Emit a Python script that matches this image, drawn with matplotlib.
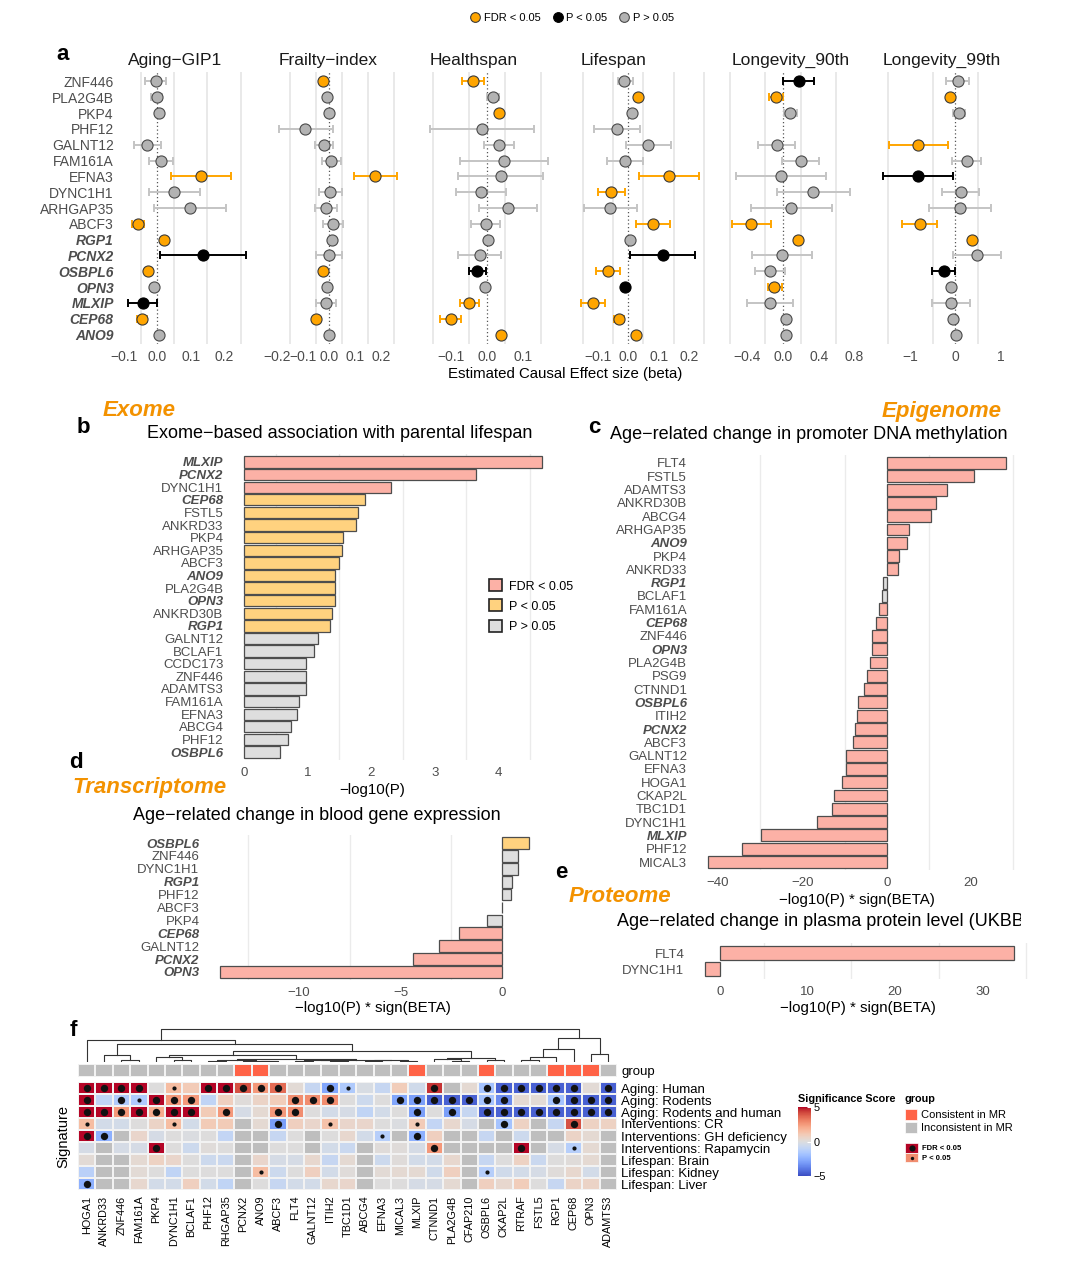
import numpy as np
import matplotlib as mpl
import matplotlib.pyplot as plt
from matplotlib.lines import Line2D
from matplotlib.patches import Patch, Rectangle
from matplotlib.colors import ListedColormap, Normalize
from matplotlib.transforms import Bbox

plt.rcParams['font.family'] = ['Liberation Sans', 'DejaVu Sans']

nan = np.nan
W, H = 1080, 1284

# ---------------- data: panel a (MR estimates) ----------------
a_genes = ['ZNF446', 'PLA2G4B', 'PKP4', 'PHF12', 'GALNT12', 'FAM161A', 'EFNA3',
           'DYNC1H1', 'ARHGAP35', 'ABCF3', 'RGP1', 'PCNX2', 'OSBPL6', 'OPN3',
           'MLXIP', 'CEP68', 'ANO9']
mr_genes = ['RGP1', 'PCNX2', 'OSBPL6', 'OPN3', 'MLXIP', 'CEP68', 'ANO9']
traits = ['Aging−GIP1', 'Frailty−index', 'Healthspan', 'Lifespan',
          'Longevity_90th', 'Longevity_99th']

aging_beta = [-0.005, -0.002, 0.006, nan, -0.030, 0.011, 0.130, 0.051, 0.097, -0.059, 0.021, 0.138, -0.027, -0.011, -0.043, -0.047, 0.004]
aging_lo = [-0.038, -0.018, -0.002, nan, -0.071, -0.026, 0.040, -0.026, -0.009, -0.077, 0.012, 0.008, -0.037, -0.020, -0.088, -0.061, -0.004]
aging_hi = [0.026, 0.013, 0.013, nan, 0.010, 0.048, 0.220, 0.127, 0.206, -0.040, 0.030, 0.266, -0.017, -0.002, 0.000, -0.031, 0.012]
aging_sig = 'NNNNNNFNNFFPFNPFN'

frail_beta = [-0.025, -0.009, 0.001, -0.092, -0.021, 0.008, 0.177, 0.004, -0.013, 0.016, 0.011, 0.000, -0.025, -0.007, -0.013, -0.052, -0.001]
frail_lo = [-0.035, -0.017, -0.007, -0.193, -0.056, -0.029, 0.095, -0.039, -0.056, -0.023, 0.003, -0.049, -0.033, -0.015, -0.049, -0.062, -0.009]
frail_hi = [-0.015, -0.001, 0.009, 0.013, 0.013, 0.047, 0.261, 0.048, 0.031, 0.053, 0.019, 0.048, -0.017, 0.001, 0.027, -0.042, 0.007]
frail_sig = 'FNNNNNFNNNNNFNNFN'

health_beta = [-0.038, 0.017, 0.035, -0.014, 0.034, 0.049, 0.041, -0.017, 0.059, -0.003, 0.004, -0.019, -0.026, -0.005, -0.048, -0.100, 0.039]
health_lo = [-0.069, 0.002, 0.027, -0.158, -0.007, -0.075, -0.081, -0.085, -0.022, -0.045, -0.004, -0.079, -0.050, -0.013, -0.075, -0.129, 0.031]
health_hi = [-0.007, 0.033, 0.043, 0.133, 0.075, 0.171, 0.157, 0.053, 0.140, 0.038, 0.012, 0.041, -0.003, 0.003, -0.020, -0.071, 0.047]
health_sig = 'FNFNNNNNNNNNPNFFF'

life_beta = [-0.014, 0.033, 0.013, -0.036, 0.064, -0.010, 0.134, -0.056, -0.059, 0.081, 0.007, 0.114, -0.066, -0.011, -0.116, -0.031, 0.024]
life_lo = [-0.034, 0.025, 0.005, -0.114, -0.009, -0.069, 0.036, -0.099, -0.145, 0.026, -0.001, 0.006, -0.106, -0.019, -0.156, -0.047, 0.016]
life_hi = [0.014, 0.041, 0.021, 0.040, 0.139, 0.050, 0.233, -0.011, 0.030, 0.136, 0.015, 0.220, -0.026, -0.003, -0.076, -0.015, 0.032]
life_sig = 'NFNNNNFFNFNPFPFFF'

l90_beta = [0.179, -0.085, 0.082, nan, -0.070, 0.198, -0.023, 0.338, 0.093, -0.357, 0.171, -0.012, -0.148, -0.097, -0.148, 0.035, 0.035]
l90_lo = [0.000, -0.155, 0.008, nan, -0.280, -0.008, -0.528, -0.070, -0.361, -0.575, 0.140, -0.346, -0.318, -0.175, -0.408, 0.005, 0.005]
l90_hi = [0.350, 0.000, 0.155, nan, 0.136, 0.408, 0.482, 0.753, 0.548, -0.140, 0.200, 0.326, 0.023, -0.008, 0.117, 0.065, 0.065]
l90_sig = 'PFNNNNNNNFFNNFNNN'

l99_beta = [0.054, -0.123, 0.069, nan, -0.831, 0.254, -0.831, 0.115, 0.100, -0.800, 0.377, 0.477, -0.254, -0.108, -0.100, -0.054, 0.008]
l99_lo = [-0.200, -0.160, -0.060, nan, -1.485, -0.077, -1.615, -0.292, -0.585, -1.190, 0.300, -0.062, -0.523, -0.150, -0.523, -0.090, -0.030]
l99_hi = [0.308, -0.086, 0.208, nan, -0.177, 0.577, -0.046, 0.515, 0.785, -0.408, 0.455, 1.015, 0.000, -0.066, 0.323, -0.018, 0.046]
l99_sig = 'NFNNFNPNNFFNPNNNN'

a_ticks = [[-0.1, 0, 0.1, 0.2], [-0.2, -0.1, 0, 0.1, 0.2], [-0.1, 0, 0.1],
           [-0.1, 0, 0.1, 0.2], [-0.4, 0, 0.4, 0.8], [-1, 0, 1]]
a_dec = [1, 1, 1, 1, 1, 0]

# ---------------- data: panel b (exome) ----------------
b_genes = ['MLXIP', 'PCNX2', 'DYNC1H1', 'CEP68', 'FSTL5', 'ANKRD33', 'PKP4', 'ARHGAP35',
           'ABCF3', 'ANO9', 'PLA2G4B', 'OPN3', 'ANKRD30B', 'RGP1', 'GALNT12', 'BCLAF1',
           'CCDC173', 'ZNF446', 'ADAMTS3', 'FAM161A', 'EFNA3', 'ABCG4', 'PHF12', 'OSBPL6']
b_vals = [4.69, 3.65, 2.31, 1.91, 1.80, 1.77, 1.56, 1.54, 1.50, 1.44, 1.44, 1.43,
          1.38, 1.36, 1.16, 1.10, 0.98, 0.97, 0.97, 0.86, 0.83, 0.74, 0.69, 0.57]
b_cats = 'FFFPPPPPPPPPPPNNNNNNNNNN'

# ---------------- data: panel c (methylation) ----------------
c_genes = ['FLT4', 'FSTL5', 'ADAMTS3', 'ANKRD30B', 'ABCG4', 'ARHGAP35', 'ANO9', 'PKP4',
           'ANKRD33', 'RGP1', 'BCLAF1', 'FAM161A', 'CEP68', 'ZNF446', 'OPN3', 'PLA2G4B',
           'PSG9', 'CTNND1', 'OSBPL6', 'ITIH2', 'PCNX2', 'ABCF3', 'GALNT12', 'EFNA3',
           'HOGA1', 'CKAP2L', 'TBC1D1', 'DYNC1H1', 'MLXIP', 'PHF12', 'MICAL3']
c_vals = [28.2, 20.8, 14.4, 11.8, 10.5, 5.4, 4.7, 2.8, 2.6, -0.8, -1.1, -1.8, -2.6,
          -3.5, -3.5, -3.9, -4.7, -5.3, -6.9, -7.0, -7.4, -7.9, -9.6, -9.7, -10.7,
          -12.4, -12.9, -16.5, -29.9, -34.2, -42.5]
c_cats = 'FFFFFFFFFNNFFFFFFFFFFFFFFFFFFFF'

# ---------------- data: panel d (transcriptome) ----------------
d_genes = ['OSBPL6', 'ZNF446', 'DYNC1H1', 'RGP1', 'PHF12', 'ABCF3', 'PKP4', 'CEP68',
           'GALNT12', 'PCNX2', 'OPN3']
d_vals = [1.30, 0.79, 0.79, 0.46, 0.43, -0.02, -0.77, -2.10, -3.12, -4.37, -13.86]
d_cats = 'PNNNNNNFFFF'

# ---------------- data: panel e (proteome) ----------------
e_genes = ['FLT4', 'DYNC1H1']
e_vals = [33.6, -1.66]
e_cats = 'FF'

# ---------------- data: panel f (heatmap) ----------------
f_cols = ['HOGA1', 'ANKRD33', 'ZNF446', 'FAM161A', 'PKP4', 'DYNC1H1', 'BCLAF1', 'PHF12',
          'RHGAP35', 'PCNX2', 'ANO9', 'ABCF3', 'FLT4', 'GALNT12', 'ITIH2', 'TBC1D1',
          'ABCG4', 'EFNA3', 'MICAL3', 'MLXIP', 'CTNND1', 'PLA2G4B', 'CFAP210', 'OSBPL6',
          'CKAP2L', 'RTRAF', 'FSTL5', 'RGP1', 'CEP68', 'OPN3', 'ADAMTS3']
f_rows = ['Aging: Human', 'Aging: Rodents', 'Aging: Rodents and human', 'Interventions: CR',
          'Interventions: GH deficiency', 'Interventions: Rapamycin', 'Lifespan: Brain',
          'Lifespan: Kidney', 'Lifespan: Liver']
f_group = [0, 0, 0, 0, 0, 0, 0, 0, 0, 1, 1, 0, 0, 0, 0, 0, 0, 0, 0, 1, 0, 0, 0, 1,
           0, 0, 0, 1, 1, 1, 0]
f_vals = np.array([
    [5, 5, 5, 5, 0, 1.5, 1, 5, 5, 4, 2.5, 3.5, 0.2, -0.8, -2.8, -1.5, -0.2, -0.8, 0.9, -0.5, 4.5, nan, 0.3, -1.8, -4.5, -4.5, -4.5, -4.5, -4.5, 0.2, -4.5],
    [5, -1, -1.5, -1.5, 5, 2.5, 2.5, -1, 0.8, 0.1, 0.6, 0.9, 2.8, 2.8, 2.8, 0, -0.6, 0, -2.8, -3, -4.5, -4.5, -4.5, -1.8, -3.5, 0.3, 0.2, -1.8, -4.5, -4.5, -4.5],
    [5, 5, 2.5, 5, 2, 5, 5, 1, 2.5, -0.3, 0.3, 2.5, 2.8, 0, -0.4, -0.3, -1, -0.4, 0, -3, 0, -3, -0.8, -4.5, -4.5, -4.5, -4.5, -4.5, -4.5, -4.5, -4.5],
    [1.5, -0.4, -0.4, 0, 0.6, 1.5, -0.4, 1, 1, nan, 0.3, -3, 0.8, 0.5, 1.3, 0.5, 0.5, 0, -0.1, 1, -0.9, 0.4, -0.3, nan, -1.8, 0.7, nan, -0.8, 4, 0.7, 0.7],
    [5, -2.5, nan, 0.5, -0.3, 0, -0.1, 0, -0.9, nan, nan, -0.8, 0, nan, 0, 0.4, -0.4, -1.3, nan, -2.5, 0.8, nan, nan, -0.8, nan, -0.6, nan, nan, 0.6, 0.3, nan],
    [-0.3, nan, -0.3, -0.3, 5, 0, -0.6, 0.1, 0, nan, nan, 0, 0, nan, -0.4, -0.7, nan, 0.1, 0.1, -0.3, 2.5, nan, nan, nan, nan, 5, nan, -0.3, -1.3, 0.3, nan],
    [0.2, nan, nan, 0.3, 0.7, 0.5, 0, -0.6, -0.7, nan, 0.5, -0.3, -0.3, 0.4, -0.8, 0.3, nan, -0.6, 0.1, -0.4, -0.4, 0.4, nan, -0.8, 0, 0.7, -0.7, 0, 0.1, 0.3, nan],
    [-1.2, nan, nan, 0.2, 0, -1, 0, 0, 0, nan, 1.5, -0.6, 0, 0.8, -0.4, 0.1, nan, 0.2, 0.3, 0.3, -0.5, 0.8, nan, -1.3, -0.5, -0.4, -0.3, 0.1, 0.4, -0.4, nan],
    [-2.5, nan, nan, 0.4, -0.4, -0.4, 0.8, -0.4, -1, nan, 0, -0.8, -0.4, -0.4, 0.4, 0.5, nan, 0, 0, -0.3, -0.3, 0.3, nan, 0.8, 0.4, 0.9, 0, -0.8, 0.6, 0.6, nan],
])
# 2 = FDR < 0.05, 1 = P < 0.05
f_sig = np.array([
    [2, 2, 2, 2, 0, 1, 0, 2, 2, 2, 2, 2, 0, 0, 2, 1, 0, 0, 0, 0, 2, 0, 0, 2, 2, 2, 2, 2, 2, 0, 2],
    [2, 0, 2, 1, 2, 2, 2, 0, 0, 0, 0, 0, 2, 2, 2, 0, 0, 0, 2, 2, 2, 2, 2, 2, 2, 0, 0, 2, 2, 2, 2],
    [2, 2, 2, 2, 2, 2, 2, 0, 2, 0, 0, 2, 2, 0, 0, 0, 0, 0, 0, 2, 0, 2, 0, 2, 2, 2, 2, 2, 2, 2, 2],
    [1, 0, 0, 0, 0, 1, 0, 0, 0, 0, 0, 2, 0, 0, 1, 0, 0, 0, 0, 1, 0, 0, 0, 0, 2, 0, 0, 0, 2, 0, 0],
    [2, 2, 0, 0, 0, 0, 0, 0, 0, 0, 0, 0, 0, 0, 0, 0, 0, 1, 0, 2, 0, 0, 0, 0, 0, 0, 0, 0, 0, 0, 0],
    [0, 0, 0, 0, 2, 0, 0, 0, 0, 0, 0, 0, 0, 0, 0, 0, 0, 0, 0, 0, 2, 0, 0, 0, 0, 2, 0, 0, 1, 0, 0],
    [0] * 31,
    [0, 0, 0, 0, 0, 0, 0, 0, 0, 0, 1, 0, 0, 0, 0, 0, 0, 0, 0, 0, 0, 0, 0, 1, 0, 0, 0, 0, 0, 0, 0],
    [2] + [0] * 30,
])
# column dendrogram: (height, left, right), leaves are column indices
f_tree = (1.0,
          (0.66, 0,
           (0.55,
            (0.21, 1, (0.05, 2, 3)),
            (0.34,
             (0.20, (0.14, 4, (0.05, 5, 6)),
              (0.08,
               (0.05, (0.03, 7, 8), (0.04, 9, (0.02, 10, 11))),
               (0.06, (0.05, (0.03, 12, 13), (0.04, 14, 15)),
                (0.05, (0.04, 16, 17), (0.03, 18, 19))))),
             (0.13, (0.09, 20, (0.04, 21, 22)), (0.05, 23, 24))))),
          (0.73, (0.38, (0.14, (0.06, 25, 26), 27), 28), (0.24, 29, 30)))

# ---------------- helpers ----------------
fig = plt.figure(figsize=(W / 100, H / 100), dpi=100)

ORANGE = '#FFA500'
TITLE_OR = '#F39200'
GREY_TXT = '#4D4D4D'


def px_ax(x0, y0, x1, y1):
    return fig.add_axes([x0 / W, 1 - y1 / H, (x1 - x0) / W, (y1 - y0) / H])


def ftext(x, y, s, **kw):
    kw.setdefault('va', 'center')
    return fig.text(x / W, 1 - y / H, s, **kw)


def pad_lim(lo, hi, frac=0.05):
    r = hi - lo
    return lo - frac * r, hi + frac * r


def minor_lines(ticks, lim):
    step = ticks[1] - ticks[0]
    m = np.arange(ticks[0] - step / 2, ticks[-1] + step, step)
    return [v for v in m if lim[0] < v < lim[1]]


def fmt(v, d):
    return f'{v:.{d}f}'.replace('-', '−')


def clean(ax):
    for s in ax.spines.values():
        s.set_visible(False)
    ax.tick_params(length=0)
    ax.set_facecolor('none')


def gene_labels(ax, genes, size):
    ax.set_yticks(range(len(genes)))
    ax.set_yticklabels(genes, fontsize=size, color=GREY_TXT)
    for lab in ax.get_yticklabels():
        if lab.get_text() in mr_genes:
            lab.set_fontweight('bold')
            lab.set_fontstyle('italic')


# ---------------- panel a ----------------
a_sets = [(aging_beta, aging_lo, aging_hi, aging_sig),
          (frail_beta, frail_lo, frail_hi, frail_sig),
          (health_beta, health_lo, health_hi, health_sig),
          (life_beta, life_lo, life_hi, life_sig),
          (l90_beta, l90_lo, l90_hi, l90_sig),
          (l99_beta, l99_lo, l99_hi, l99_sig)]
pt_face = {'F': ORANGE, 'P': '#000000', 'N': '#B3B3B3'}
pt_edge = {'F': '#3A3A3A', 'P': '#000000', 'N': '#4A4A4A'}
err_col = {'F': ORANGE, 'P': '#000000', 'N': '#C4C4C4'}

for i, (name, (beta, lo, hi, sig)) in enumerate(zip(traits, a_sets)):
    x0 = 122 + 151 * i
    ax = px_ax(x0, 72, x0 + 130, 344)
    beta, lo, hi = np.array(beta), np.array(lo), np.array(hi)
    lim = pad_lim(np.nanmin(lo), np.nanmax(hi))
    ax.set_xlim(lim)
    ax.set_ylim(len(a_genes) - 0.4, -0.6)
    for m in minor_lines(a_ticks[i], lim):
        ax.axvline(m, color='#E3E3E3', lw=1.1, zorder=0)
    ax.axvline(0, color='#555555', lw=0.9, ls=(0, (1, 2)), zorder=1)
    for j in range(len(a_genes)):
        if np.isnan(beta[j]):
            continue
        s = sig[j]
        ax.errorbar(beta[j], j, xerr=[[beta[j] - lo[j]], [hi[j] - beta[j]]], fmt='none',
                    ecolor=err_col[s], elinewidth=1.4, capsize=2.6, capthick=1.4, zorder=2)
        ax.scatter(beta[j], j, s=64, c=pt_face[s], edgecolors=pt_edge[s],
                   linewidths=0.8, zorder=3)
    ax.set_xticks(a_ticks[i])
    ax.set_xticklabels([fmt(t, a_dec[i]) for t in a_ticks[i]], fontsize=10, color=GREY_TXT)
    clean(ax)
    ax.tick_params(axis='x', pad=4)
    if i == 0:
        gene_labels(ax, a_genes, 10)
        ax.tick_params(axis='y', pad=6)
    else:
        ax.set_yticks([])
    ftext(x0 + 6, 60, name, fontsize=12.5, color='#1A1A1A')

ftext(565, 374, 'Estimated Causal Effect size (beta)', fontsize=10.8, ha='center')
ftext(56, 55, 'a', fontsize=16, fontweight='bold')

top_handles = [Line2D([], [], ls='', marker='o', ms=7, mfc=pt_face[k], mec=pt_edge[k], mew=0.8)
               for k in 'FPN']
fig.legend(top_handles, ['FDR < 0.05', 'P < 0.05', 'P > 0.05'], loc='center', ncol=3,
           bbox_to_anchor=(572 / W, 1 - 18 / H), frameon=False, fontsize=8,
           handletextpad=0.3, columnspacing=1.0, handlelength=1.0)

# ---------------- bar panels ----------------
cat_fill = {'F': '#FCB1A6', 'P': '#FFD27F', 'N': '#DEDEDE'}


def bar_panel(box, genes, vals, cats, ticks, fs=9.5):
    ax = px_ax(*box)
    vals = np.array(vals, float)
    lim = pad_lim(min(0, vals.min()), max(0, vals.max()))
    ax.set_xlim(lim)
    ax.set_ylim(len(genes) - 0.4, -0.6)
    for m in minor_lines(ticks, lim):
        ax.axvline(m, color='#EBEBEB', lw=1.0, zorder=0)
    ax.barh(range(len(genes)), vals, height=0.9, color=[cat_fill[c] for c in cats],
            edgecolor='#4D4D4D', linewidth=0.9, zorder=2)
    ax.set_xticks(ticks)
    ax.set_xticklabels([fmt(t, 0) for t in ticks], fontsize=9.5, color=GREY_TXT)
    clean(ax)
    gene_labels(ax, genes, fs)
    ax.tick_params(axis='y', pad=4)
    ax.tick_params(axis='x', pad=5)
    return ax


TFS = 13      # panel subtitle size
OFS = 16      # omics label size

ax_b = bar_panel((229, 454.4, 557, 759.6), b_genes, b_vals, b_cats, [0, 1, 2, 3, 4])
leg_handles = [Patch(facecolor=cat_fill[k], edgecolor='#222222', lw=1.2) for k in 'FPN']
ax_b.legend(leg_handles, ['FDR < 0.05', 'P < 0.05', 'P > 0.05'], loc='upper left',
            bbox_to_anchor=(478 / W, 1 - 568 / H), bbox_transform=fig.transFigure,
            frameon=False, fontsize=9, handlelength=1.0, handleheight=1.1,
            handletextpad=0.6, labelspacing=0.55)
ftext(103, 410, 'Exome', fontsize=OFS, fontweight='bold', fontstyle='italic', color=TITLE_OR)
ftext(77, 428, 'b', fontsize=16, fontweight='bold')
ftext(147, 433, 'Exome−based association with parental lifespan', fontsize=TFS)
ftext(372, 790, '−log10(P)', fontsize=10.8, ha='center')

bar_panel((692.6, 455, 1020.5, 870), c_genes, c_vals, c_cats, [-40, -20, 0, 20])
ftext(882, 412, 'Epigenome', fontsize=OFS, fontweight='bold', fontstyle='italic', color=TITLE_OR)
ftext(588, 428, 'c', fontsize=16, fontweight='bold')
ftext(610, 435, 'Age−related change in promoter DNA methylation', fontsize=TFS)
ftext(857, 900, '−log10(P) * sign(BETA)', fontsize=10.8, ha='center')

bar_panel((205, 835.3, 544, 979.7), d_genes, d_vals, d_cats, [-10, -5, 0])
ftext(69, 763, 'd', fontsize=16, fontweight='bold')
ftext(72, 787, 'Transcriptome', fontsize=OFS, fontweight='bold', fontstyle='italic', color=TITLE_OR)
ftext(133, 815, 'Age−related change in blood gene expression', fontsize=TFS)
ftext(373, 1008, '−log10(P) * sign(BETA)', fontsize=10.8, ha='center')

bar_panel((690, 943.4, 1029.4, 978.6), e_genes, e_vals, e_cats, [0, 10, 20, 30])
ftext(555, 872, 'e', fontsize=16, fontweight='bold')
ftext(569, 897, 'Proteome', fontsize=OFS, fontweight='bold', fontstyle='italic', color=TITLE_OR)
t_e = ftext(617, 922, 'Age−related change in plasma protein level (UKBB)', fontsize=TFS)
t_e.set_clip_box(Bbox.from_extents(0, 0, 1021, H))   # cut like the original sub-figure
t_e.set_clip_on(True)
ftext(858, 1008, '−log10(P) * sign(BETA)', fontsize=10.8, ha='center')

# ---------------- panel f ----------------
ncol, nrow = len(f_cols), len(f_rows)

ax_d = px_ax(78, 1028, 617, 1062)


def draw_tree(ax, node):
    if isinstance(node, int):
        return node + 0.5, 0.0
    h, left, right = node
    xl, yl = draw_tree(ax, left)
    xr, yr = draw_tree(ax, right)
    ax.plot([xl, xl, xr, xr], [yl, h, h, yr], color='#333333', lw=0.8)
    return (xl + xr) / 2, h


draw_tree(ax_d, f_tree)
ax_d.set_xlim(0, ncol)
ax_d.set_ylim(0, 1.02)
ax_d.axis('off')

ax_g = px_ax(78, 1064, 617, 1077)
ax_g.pcolormesh(np.array([f_group]), cmap=ListedColormap(['#BEBEBE', '#FF6347']),
                vmin=0, vmax=1, edgecolors='#F2F2F2', linewidth=0.15)
ax_g.set_xlim(0, ncol)
ax_g.set_xticks([])
ax_g.yaxis.tick_right()
ax_g.set_yticks([0.5])
ax_g.set_yticklabels(['group'], fontsize=9.5)
clean(ax_g)
ax_g.tick_params(axis='y', pad=3)

cmap = plt.get_cmap('coolwarm').copy()
cmap.set_bad('#BEBEBE')
ax_h = px_ax(78, 1082, 617, 1190)
ax_h.pcolormesh(np.ma.masked_invalid(f_vals), cmap=cmap, vmin=-5, vmax=5,
                edgecolors='#F2F2F2', linewidth=0.15)
rr, cc = np.nonzero(f_sig == 2)
ax_h.scatter(cc + 0.5, rr + 0.5, s=28, c='#111111', lw=0, zorder=3)
rr, cc = np.nonzero(f_sig == 1)
ax_h.scatter(cc + 0.5, rr + 0.5, s=9, c='#111111', lw=0, zorder=3)
ax_h.set_xlim(0, ncol)
ax_h.set_ylim(nrow, 0)
ax_h.set_xticks(np.arange(ncol) + 0.5)
ax_h.set_xticklabels(f_cols, rotation=90, fontsize=7.8, ha='center', va='top')
ax_h.yaxis.tick_right()
ax_h.set_yticks(np.arange(nrow) + 0.5)
ax_h.set_yticklabels(f_rows, fontsize=9.5)
clean(ax_h)
ax_h.tick_params(axis='y', pad=3)
ax_h.tick_params(axis='x', pad=4)
ftext(63, 1136, 'Signature', fontsize=10.5, rotation=90, ha='center')
ftext(70, 1030, 'f', fontsize=16, fontweight='bold')

# heatmap legends
cax = px_ax(798, 1107, 811, 1176)
sm = mpl.cm.ScalarMappable(norm=Normalize(-5, 5), cmap=plt.get_cmap('coolwarm'))
cb = fig.colorbar(sm, cax=cax, ticks=[-5, 0, 5])
cb.outline.set_visible(False)
cb.ax.set_yticklabels(['−5', '0', '5'], fontsize=7.8)
cb.ax.tick_params(length=3, color='white', width=0.8, direction='in', pad=2)
ftext(798, 1099, 'Significance Score', fontsize=7.8, fontweight='bold')

ax_o = fig.add_axes([0, 0, 1, 1])
ax_o.set_xlim(0, W)
ax_o.set_ylim(H, 0)
ax_o.axis('off')
ax_o.patch.set_visible(False)
ftext(905, 1099, 'group', fontsize=7.8, fontweight='bold')
ax_o.add_patch(Rectangle((905, 1109), 12, 11, facecolor='#FF6347', edgecolor='white', lw=0.5))
ax_o.add_patch(Rectangle((905, 1122), 12, 11, facecolor='#BEBEBE', edgecolor='white', lw=0.5))
ftext(921, 1115, 'Consistent in MR', fontsize=8)
ftext(921, 1128, 'Inconsistent in MR', fontsize=8)
ax_o.add_patch(Rectangle((905, 1143), 13, 10, facecolor=cmap(1.0), edgecolor='white', lw=0.5))
ax_o.add_patch(Rectangle((905, 1153), 13, 9, facecolor=cmap(0.78), edgecolor='white', lw=0.5))
ax_o.scatter([911.5], [1148], s=20, c='#111111', lw=0)
ax_o.scatter([911.5], [1157.5], s=6, c='#111111', lw=0)
ftext(922, 1148, 'FDR < 0.05', fontsize=5.5, fontweight='bold')
ftext(922, 1158, 'P < 0.05', fontsize=5.5, fontweight='bold')

fig.savefig('out.png', dpi=100)
